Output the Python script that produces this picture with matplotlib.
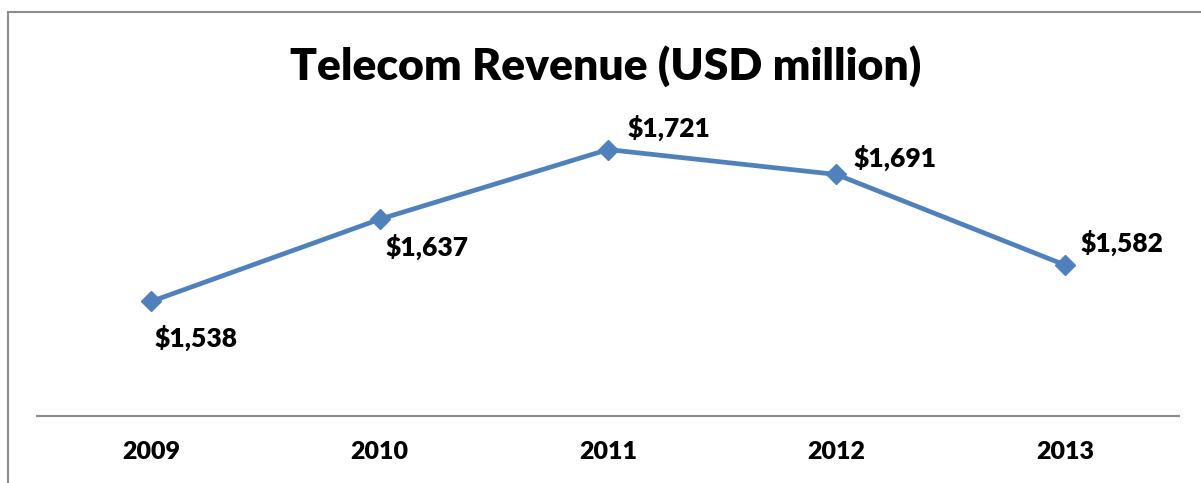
import matplotlib
import numpy as np

matplotlib.use("Agg")
import matplotlib.pyplot as plt
from matplotlib.patches import Rectangle

YEARS = ["2009", "2010", "2011", "2012", "2013"]
REVENUE = [1538, 1637, 1721, 1691, 1582]
LABEL_OFFSETS = [(45, -36), (47, -28), (61, 22), (59, 17), (57, 22)]

LINE_COLOR = "#4F81BD"
FONT = ["Lato", "DejaVu Sans"]

fig = plt.figure(figsize=(12.01, 4.83), dpi=100)
W, H = 1201, 483

# outer chart border (cropped on right and bottom)
fig.patches.append(Rectangle((8 / W, -0.05), 1.2, (H - 12) / H + 0.05,
                             transform=fig.transFigure, fill=False,
                             edgecolor="#8c8c8c", linewidth=1.5))

ax = fig.add_axes([37 / W, (H - 416) / H, (1179 - 37) / W, (416 - 84) / H])
x = np.arange(len(YEARS))
ax.plot(x, REVENUE, color=LINE_COLOR, linewidth=3.4, marker="D", markersize=10,
        markerfacecolor=LINE_COLOR, markeredgecolor=LINE_COLOR, zorder=3)

for xi, val, (dx, dy) in zip(x, REVENUE, LABEL_OFFSETS):
    ax.annotate(f"${val:,}", (xi, val), xytext=(dx, dy), textcoords="offset pixels",
                ha="center", va="center", fontsize=19, fontweight="heavy",
                family=FONT, color="black")

ax.set_xlim(-0.5, len(YEARS) - 0.5)
ax.set_ylim(1400, 1800)
ax.set_yticks([])
ax.set_xticks(x)
ax.set_xticklabels(YEARS, fontsize=18, fontweight="heavy", family=FONT)
ax.tick_params(axis="x", length=0, pad=18)
for side in ["top", "right", "left"]:
    ax.spines[side].set_visible(False)
ax.spines["bottom"].set_color("#8c8c8c")
ax.spines["bottom"].set_linewidth(1.5)

fig.text(606 / W, (H - 66) / H, "Telecom Revenue (USD million)", ha="center", va="center",
         fontsize=32, fontweight="heavy", family=FONT)

fig.savefig("out.png", dpi=100)
